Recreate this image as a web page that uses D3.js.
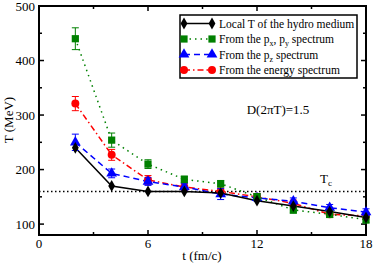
<!DOCTYPE html>
<html>
<head>
<meta charset="utf-8">
<script src="https://cdn.jsdelivr.net/npm/d3@7"></script>
<style>
  body { margin: 0; background: #fff; }
</style>
</head>
<body>
<div id="chart"></div>
<script>
// time in fm/c
const times = [2, 4, 6, 8, 10, 12, 14, 16, 18];
const localT = [240, 170, 160, 160, 157, 143, 133, 123, 112];
const pxpyT = [440, 254, 210, 182, 174, 150, 126, 118, 108];
const pxpyErr = [20, 13, 8, 6, 6, 6, 6, 6, 6];
const pzT = [250, 193, 178, 168, 155, 148, 142, 130, 122];
const pzErr = [15, 8, 7, 6, 10, 6, 6, 6, 6];
const energyT = [321, 227, 181, 168, 160, 150, 138, 118, 115];
const energyErr = [13, 10, 8, 6, 6, 6, 6, 6, 6];
const Tc = 160;
const xTicks = [0, 6, 12, 18];
const yTicks = [100, 200, 300, 400, 500];

const width = 374, height = 264;
const svg = d3.select('#chart').append('svg')
    .attr('width', width)
    .attr('height', height)
    .attr('font-family', '"Liberation Serif", "Times New Roman", "DejaVu Serif", serif');

const x = d3.scaleLinear().domain([0, 18]).range([39, 366]);
const y = d3.scaleLinear().domain([80, 500]).range([235, 6]);

// ticks, inward, on all four sides
const tick = 5, minor = 3;
const g = svg.append('g');
function tickSet(vals, len, withLabels) {
    vals.forEach(v => {
        g.append('line').attr('x1', x(v)).attr('x2', x(v)).attr('y1', y(80)).attr('y2', y(80) - len).attr('stroke', '#000').attr('stroke-width', 1.5);
        g.append('line').attr('x1', x(v)).attr('x2', x(v)).attr('y1', y(500)).attr('y2', y(500) + len).attr('stroke', '#000').attr('stroke-width', 1.5);
        if (withLabels) {
            g.append('text').attr('x', x(v)).attr('y', 248).attr('text-anchor', 'middle')
                .attr('font-size', 13).text(v);
        }
    });
}
tickSet(xTicks, tick, true);
tickSet([3, 9, 15], minor, false);
function yTickSet(vals, len, withLabels) {
    vals.forEach(v => {
        g.append('line').attr('x1', x(0)).attr('x2', x(0) + len).attr('y1', y(v)).attr('y2', y(v)).attr('stroke', '#000').attr('stroke-width', 1.5);
        g.append('line').attr('x1', x(18)).attr('x2', x(18) - len).attr('y1', y(v)).attr('y2', y(v)).attr('stroke', '#000').attr('stroke-width', 1.5);
        if (withLabels) {
            g.append('text').attr('x', 35).attr('y', y(v) + 4.5).attr('text-anchor', 'end')
                .attr('font-size', 13).text(v);
        }
    });
}
yTickSet(yTicks, tick, true);
yTickSet([150, 250, 350, 450], minor, false);

svg.append('rect')
    .attr('x', x(0)).attr('y', y(500))
    .attr('width', x(18) - x(0)).attr('height', y(80) - y(500))
    .attr('fill', 'none').attr('stroke', '#000').attr('stroke-width', 2);

// axis titles
svg.append('text').attr('x', 202).attr('y', 260).attr('text-anchor', 'middle')
    .attr('font-size', 13).text('t (fm/c)');
svg.append('text').attr('transform', 'translate(13,120) rotate(-90)').attr('text-anchor', 'middle')
    .attr('font-size', 13).text('T (MeV)');

// Tc line
svg.append('line').attr('x1', x(0)).attr('x2', x(18)).attr('y1', y(Tc)).attr('y2', y(Tc))
    .attr('stroke', '#000').attr('stroke-width', 1.5).attr('stroke-dasharray', '1.5,2.5');
const tcLabel = svg.append('text').attr('x', 320).attr('y', 183).attr('font-size', 13);
tcLabel.append('tspan').text('T');
tcLabel.append('tspan').attr('font-size', 9).attr('dy', 3).text('c');

svg.append('text').attr('x', 278).attr('y', 114).attr('text-anchor', 'middle')
    .attr('font-size', 13).text('D(2πT)=1.5');

const series = [
    { name: 'local', vals: localT, err: null, color: '#000', dash: null, sym: d3.symbolDiamond, size: 40 },
    { name: 'pxpy', vals: pxpyT, err: pxpyErr, color: '#008000', dash: '1.5,4', sym: d3.symbolSquare, size: 52 },
    { name: 'pz', vals: pzT, err: pzErr, color: '#0000ff', dash: '6,4', sym: d3.symbolTriangle, size: 50 },
    { name: 'energy', vals: energyT, err: energyErr, color: '#ff0000', dash: '6,3,1.5,3', sym: d3.symbolCircle, size: 50 }
];

const line = d3.line().x(d => x(d[0])).y(d => y(d[1]));

// draw from last to first so black is on top like the original
series.slice().reverse().forEach(s => {
    const pts = times.map((t, i) => [t, s.vals[i]]);
    svg.append('path').datum(pts).attr('d', line)
        .attr('fill', 'none').attr('stroke', s.color).attr('stroke-width', 1.5)
        .attr('stroke-dasharray', s.dash);
});
series.slice().reverse().forEach(s => {
    if (s.err) {
        times.forEach((t, i) => {
            const top = y(s.vals[i] + s.err[i]), bot = y(s.vals[i] - s.err[i]);
            svg.append('line').attr('x1', x(t)).attr('x2', x(t)).attr('y1', top).attr('y2', bot)
                .attr('stroke', s.color).attr('stroke-width', 1);
            [top, bot].forEach(yy => svg.append('line').attr('x1', x(t) - 3.5).attr('x2', x(t) + 3.5)
                .attr('y1', yy).attr('y2', yy).attr('stroke', s.color).attr('stroke-width', 1));
        });
    }
    svg.append('g').selectAll('path').data(times.map((t, i) => [t, s.vals[i]])).join('path')
        .attr('transform', d => `translate(${x(d[0])},${y(d[1])})`)
        .attr('d', d3.symbol().type(s.sym).size(s.size))
        .attr('fill', s.color);
});

// legend
const leg = svg.append('g');
leg.append('rect').attr('x', 180).attr('y', 15).attr('width', 177).attr('height', 63)
    .attr('fill', '#fff').attr('stroke', '#000').attr('stroke-width', 1.5);
const labels = [
    ['Local T of the hydro medium'],
    ['From the p', 'x', ', p', 'y', ' spectrum'],
    ['From the p', 'z', ' spectrum'],
    ['From the energy spectrum']
];
series.forEach((s, i) => {
    const ly = 23.5 + i * 15.5;
    leg.append('line').attr('x1', 184).attr('x2', 212).attr('y1', ly).attr('y2', ly)
        .attr('stroke', s.color).attr('stroke-width', 1.5).attr('stroke-dasharray', s.dash);
    [184, 212].forEach(lx => leg.append('path').attr('transform', `translate(${lx},${ly})`)
        .attr('d', d3.symbol().type(s.sym).size(s.size)).attr('fill', s.color));
    const t = leg.append('text').attr('x', 219).attr('y', ly + 4).attr('font-size', 11.5);
    labels[i].forEach((part, k) => {
        const sp = t.append('tspan').text(part);
        if (k % 2 === 1) sp.attr('font-size', 8).attr('dy', 3);
        else if (k > 0) sp.attr('dy', -3);
    });
});
</script>
</body>
</html>
